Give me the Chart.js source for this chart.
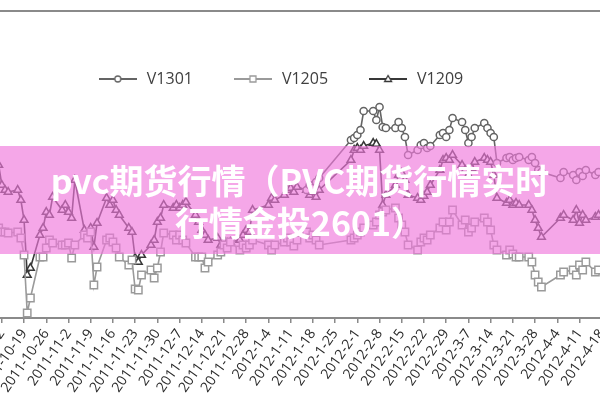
<!DOCTYPE html>
<html>
<head>
<meta charset="utf-8">
<script src="https://cdn.jsdelivr.net/npm/chart.js@4.4.0/dist/chart.umd.min.js"></script>
<style>
  html, body { margin: 0; padding: 0; background: #fff; }
  body { width: 600px; height: 400px; overflow: hidden; position: relative; }
  #frame { position: absolute; left: 0; top: 10px; width: 600px; height: 0; border-top: 2px solid #8a8a8a; }
  #wrap { position: absolute; left: -70px; top: 0; width: 700px; height: 400px; }
  #banner {
    position: absolute; left: 0; top: 146px; width: 600px; height: 108px;
    box-sizing: border-box; padding-top: 13px; z-index: 2;
    background: rgba(240, 120, 220, 0.65);
    color: #fff; font-family: "Noto Sans CJK SC", sans-serif; font-weight: bold;
    font-size: 34px; line-height: 42px; text-align: center; white-space: nowrap;
  }
</style>
</head>
<body>
<div id="frame"></div>
<div id="wrap"><canvas id="chart" width="700" height="400"></canvas></div>
<div id="banner">pvc期货行情（PVC期货行情实时<br>行情金投2601）</div>
<script>
'use strict';

// trading days shown on the chart
const dates = [
  '2011-10-11', '2011-10-12', '2011-10-13', '2011-10-14',
  '2011-10-17', '2011-10-18', '2011-10-19', '2011-10-20', '2011-10-21',
  '2011-10-24', '2011-10-25', '2011-10-26', '2011-10-27', '2011-10-28',
  '2011-10-31', '2011-11-1', '2011-11-2', '2011-11-3', '2011-11-4',
  '2011-11-7', '2011-11-8', '2011-11-9', '2011-11-10', '2011-11-11',
  '2011-11-14', '2011-11-15', '2011-11-16', '2011-11-17', '2011-11-18',
  '2011-11-21', '2011-11-22', '2011-11-23', '2011-11-24', '2011-11-25',
  '2011-11-28', '2011-11-29', '2011-11-30', '2011-12-1', '2011-12-2',
  '2011-12-5', '2011-12-6', '2011-12-7', '2011-12-8', '2011-12-9',
  '2011-12-12', '2011-12-13', '2011-12-14', '2011-12-15', '2011-12-16',
  '2011-12-19', '2011-12-20', '2011-12-21', '2011-12-22', '2011-12-23',
  '2011-12-26', '2011-12-27', '2011-12-28', '2011-12-29', '2011-12-30',
  '2012-1-4', '2012-1-5', '2012-1-6',
  '2012-1-9', '2012-1-10', '2012-1-11', '2012-1-12', '2012-1-13',
  '2012-1-16', '2012-1-17', '2012-1-18', '2012-1-19', '2012-1-20',
  '2012-1-30', '2012-1-31', '2012-2-1', '2012-2-2', '2012-2-3',
  '2012-2-6', '2012-2-7', '2012-2-8', '2012-2-9', '2012-2-10',
  '2012-2-13', '2012-2-14', '2012-2-15', '2012-2-16', '2012-2-17',
  '2012-2-20', '2012-2-21', '2012-2-22', '2012-2-23', '2012-2-24',
  '2012-2-27', '2012-2-28', '2012-2-29', '2012-3-1', '2012-3-2',
  '2012-3-5', '2012-3-6', '2012-3-7', '2012-3-8', '2012-3-9',
  '2012-3-12', '2012-3-13', '2012-3-14', '2012-3-15', '2012-3-16',
  '2012-3-19', '2012-3-20', '2012-3-21', '2012-3-22', '2012-3-23',
  '2012-3-26', '2012-3-27', '2012-3-28', '2012-3-29', '2012-3-30',
  '2012-4-5', '2012-4-6',
  '2012-4-9', '2012-4-10', '2012-4-11', '2012-4-12', '2012-4-13',
  '2012-4-16', '2012-4-17'
];

// weekly axis labels
const tickLabels = [
  '2011-10-12', '2011-10-19', '2011-10-26', '2011-11-2', '2011-11-9', '2011-11-16', '2011-11-23',
  '2011-11-30', '2011-12-7', '2011-12-14', '2011-12-21', '2011-12-28', '2012-1-4', '2012-1-11',
  '2012-1-18', '2012-1-25', '2012-2-1', '2012-2-8', '2012-2-15', '2012-2-22', '2012-2-29',
  '2012-3-7', '2012-3-14', '2012-3-21', '2012-3-28', '2012-4-4', '2012-4-11', '2012-4-18'
];

const v1209 = [
  6740, 6660, 6640, 6632,
  6640, 6600, 6520, 6300, 6328,
  6460, 6488, 6552, 6540, 6612,
  6560, 6580, 6552, 6528, 6680,
  6480, 6460, 6488, 6412, 6508,
  6608, 6580, 6600, 6560, 6540,
  6488, 6472, 6368, 6352, 6380,
  6420, 6440, 6512, 6528, 6580,
  6568, 6580, 6568, 6580, 6592,
  6540, 6512, 6480, 6460, 6440,
  6448, 6420, 6440, 6428, 6432,
  6440, 6460, 6480, 6472, 6560,
  6580, 6608, 6600,
  6620, 6640, 6648, 6632, 6652,
  6640, 6620, 6632, 6612, 6640,
  6760, 6800, 6808, 6800, 6816,
  6828, 6824, 6800, 6580, 6620,
  6660, 6700, 6708, 6680, 6620,
  6608, 6600, 6616, 6632, 6660,
  6720, 6760, 6768, 6760, 6780,
  6740, 6720, 6700, 6728, 6752,
  6768, 6760, 6752, 6700, 6608,
  6588, 6600, 6580, 6588, 6580,
  6580, 6560, 6520, 6488, 6452,
  6528, 6540,
  6520, 6560, 6508, 6540, 6520,
  6532, 6540
];

const v1205 = [
  6488, 6472, 6472, 6468,
  6472, 6448, 6380, 6148, 6208,
  6372, 6372, 6408, 6440, 6428,
  6420, 6420, 6428, 6368, 6420,
  6460, 6448, 6472, 6260, 6332,
  6440, 6448, 6432, 6408, 6372,
  6340, 6360, 6244, 6240, 6300,
  6320, 6288, 6328, 6392, 6468,
  6460, 6440, 6460, 6440, 6428,
  6372, 6372, 6372, 6328, 6352,
  6380, 6392, 6420, 6408, 6432,
  6400, 6420, 6408, 6420, 6440,
  6420, 6400, 6420,
  6432, 6448, 6432, 6416, 6440,
  6472, 6448, 6460, 6440, 6420,
  6440, 6448, 6460, 6472, 6488,
  6500, 6512, 6540, 6552, 6560,
  6568, 6528, 6500, 6472, 6420,
  6400, 6432, 6448, 6440, 6460,
  6488, 6512, 6480, 6512, 6560,
  6500, 6520, 6472, 6488, 6512,
  6528, 6512, 6480, 6420, 6400,
  6380, 6400, 6384, 6372, 6372,
  6372, 6352, 6300, 6272, 6252,
  6300, 6312,
  6320, 6300, 6340, 6320, 6352,
  6312, 6320
];

// V1301 starts trading later
const v1301Start = '2012-1-16';
const v1301 = [
  6640, 6660, 6648, 6672, 6688,
  6840, 6848, 6860, 6880, 6956,
  6956, 6920, 6972, 6892, 6888,
  6888, 6912, 6888, 6852, 6780,
  6800, 6820, 6828, 6808, 6816,
  6860, 6868, 6852, 6880, 6928,
  6912, 6880, 6828, 6852, 6888,
  6908, 6888, 6868, 6852, 6748,
  6768, 6772, 6760, 6768, 6772,
  6760, 6772, 6748, 6720, 6712,
  6688, 6712,
  6700, 6680, 6712, 6696, 6720,
  6700, 6712
];

// days since 2011-10-12
const BASE = Date.UTC(2011, 9, 12);
const dayNum = s => {
  const [y, m, d] = s.split('-').map(Number);
  return (Date.UTC(y, m - 1, d) - BASE) / 86400000;
};
const toPoints = (days, vals) => vals.map((v, i) => ({ x: dayNum(days[i]), y: v }));

const labelByDay = {};
tickLabels.forEach(l => { labelByDay[dayNum(l)] = l; });

const COLORS = { v1301: '#646464', v1205: '#9a9a9a', v1209: '#383838' };

// little line+marker icons for the legend
const mkIcon = (color, style) => {
  const c = document.createElement('canvas');
  c.width = 38; c.height = 12;
  const g = c.getContext('2d');
  g.strokeStyle = color; g.lineWidth = 2;
  g.beginPath(); g.moveTo(0, 6); g.lineTo(38, 6); g.stroke();
  g.fillStyle = '#fff'; g.lineWidth = 1.3;
  g.beginPath();
  if (style === 'circle') g.arc(19, 6, 3, 0, Math.PI * 2);
  else if (style === 'rect') g.rect(16, 3, 6, 6);
  else { g.moveTo(19, 2.5); g.lineTo(22.5, 8.5); g.lineTo(15.5, 8.5); g.closePath(); }
  g.fill(); g.stroke();
  return c;
};
const icons = [
  mkIcon(COLORS.v1301, 'circle'),
  mkIcon(COLORS.v1205, 'rect'),
  mkIcon(COLORS.v1209, 'triangle')
];

const common = { borderWidth: 1.6, pointBackgroundColor: '#fff', pointBorderWidth: 1.5, tension: 0 };

new Chart(document.getElementById('chart'), {
  type: 'line',
  data: {
    datasets: [
      { ...common, label: 'V1301', data: toPoints(dates.slice(dates.indexOf(v1301Start)), v1301),
        borderColor: COLORS.v1301, pointBorderColor: COLORS.v1301, pointStyle: 'circle', pointRadius: 3.6 },
      { ...common, label: 'V1205', data: toPoints(dates, v1205),
        borderColor: COLORS.v1205, pointBorderColor: COLORS.v1205, pointStyle: 'rect', pointRadius: 5.2 },
      { ...common, label: 'V1209', data: toPoints(dates, v1209),
        borderColor: COLORS.v1209, pointBorderColor: COLORS.v1209, pointStyle: 'triangle', pointRadius: 4.5 }
    ]
  },
  options: {
    responsive: false,
    animation: false,
    layout: { padding: { top: 32, left: 0, right: 0, bottom: 0 } },
    plugins: {
      tooltip: { enabled: false },
      legend: {
        position: 'top',
        labels: {
          usePointStyle: true, pointStyleWidth: 42, padding: 39,
          color: '#404040', font: { family: "'Open Sans'", size: 16 },
          generateLabels: chart => Chart.defaults.plugins.legend.labels.generateLabels(chart)
            .map((it, i) => ({ ...it, pointStyle: icons[i] }))
        }
      }
    },
    scales: {
      x: {
        type: 'linear', min: -20.52, max: 195.8,
        afterFit: s => { s.height = 82; s.paddingLeft = 0; s.paddingRight = 0; },
        border: { color: '#8a8a8a', width: 2 },
        grid: { drawOnChartArea: false, color: '#8a8a8a', tickLength: 5, lineWidth: 1.5 },
        ticks: {
          stepSize: 7, autoSkip: false, includeBounds: false,
          minRotation: 55, maxRotation: 55, padding: 3,
          color: '#2a2a2a', font: { family: "'Open Sans'", size: 14 },
          callback: v => labelByDay[Math.round(v)] || ''
        }
      },
      y: { display: false, min: 6128, max: 7012 }
    }
  }
});
</script>
</body>
</html>
